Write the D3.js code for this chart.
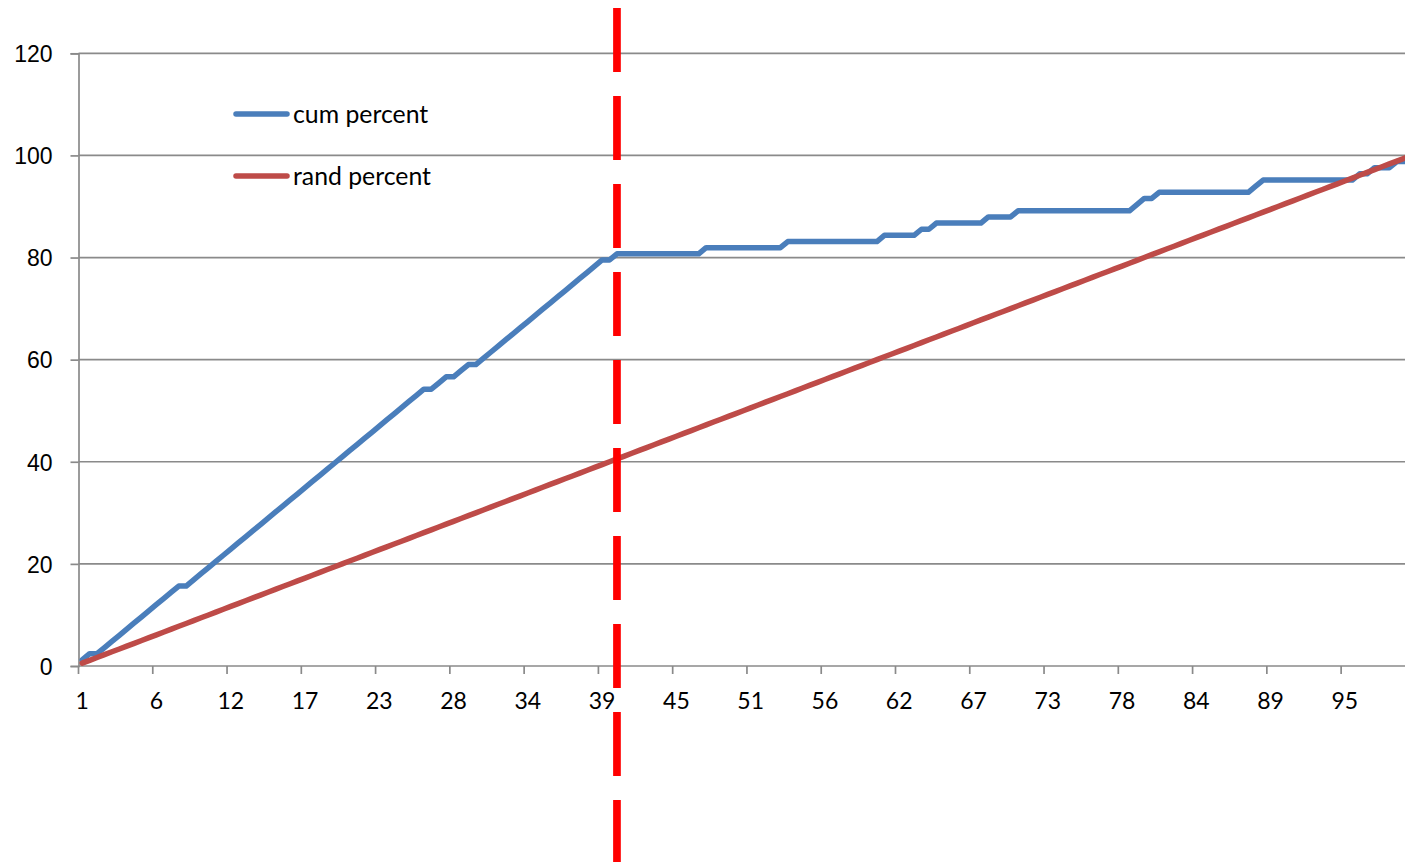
<!DOCTYPE html>
<html>
<head>
<meta charset="utf-8">
<script src="https://cdn.jsdelivr.net/npm/d3@7/dist/d3.min.js"></script>
<style>
  html, body { margin: 0; padding: 0; background: #ffffff; overflow: hidden; }
  svg { display: block; font-family: Lato, "Open Sans", "Liberation Sans", sans-serif; }
</style>
</head>
<body>
<svg id="chart" width="1405" height="862"></svg>
<script>
// Cumulative share of hits (%) after each ranked bin, 180 bins in all
const cumPercent = [
  1.20, 2.41, 2.41, 3.61, 4.82, 6.02, 7.23, 8.43, 9.64, 10.84,
  12.05, 13.25, 14.46, 15.66, 15.66, 16.87, 18.07, 19.28, 20.48, 21.69,
  22.89, 24.10, 25.30, 26.51, 27.71, 28.92, 30.12, 31.33, 32.53, 33.73,
  34.94, 36.14, 37.35, 38.55, 39.76, 40.96, 42.17, 43.37, 44.58, 45.78,
  46.99, 48.19, 49.40, 50.60, 51.81, 53.01, 54.22, 54.22, 55.42, 56.63,
  56.63, 57.83, 59.04, 59.04, 60.24, 61.45, 62.65, 63.86, 65.06, 66.27,
  67.47, 68.67, 69.88, 71.08, 72.29, 73.49, 74.70, 75.90, 77.11, 78.31,
  79.52, 79.52, 80.72, 80.72, 80.72, 80.72, 80.72, 80.72, 80.72, 80.72,
  80.72, 80.72, 80.72, 80.72, 81.93, 81.93, 81.93, 81.93, 81.93, 81.93,
  81.93, 81.93, 81.93, 81.93, 81.93, 83.13, 83.13, 83.13, 83.13, 83.13,
  83.13, 83.13, 83.13, 83.13, 83.13, 83.13, 83.13, 83.13, 84.34, 84.34,
  84.34, 84.34, 84.34, 85.54, 85.54, 86.75, 86.75, 86.75, 86.75, 86.75,
  86.75, 86.75, 87.95, 87.95, 87.95, 87.95, 89.16, 89.16, 89.16, 89.16,
  89.16, 89.16, 89.16, 89.16, 89.16, 89.16, 89.16, 89.16, 89.16, 89.16,
  89.16, 89.16, 90.36, 91.57, 91.57, 92.77, 92.77, 92.77, 92.77, 92.77,
  92.77, 92.77, 92.77, 92.77, 92.77, 92.77, 92.77, 92.77, 93.98, 95.18,
  95.18, 95.18, 95.18, 95.18, 95.18, 95.18, 95.18, 95.18, 95.18, 95.18,
  95.18, 95.18, 96.39, 96.39, 97.59, 97.59, 97.59, 98.80, 98.80, 100.00
];

// Share expected from a random ordering (%), same 180 bins
const randPercent = [
  0.56, 1.11, 1.67, 2.22, 2.78, 3.33, 3.89, 4.44, 5.00, 5.56, 6.11, 6.67, 7.22, 7.78, 8.33, 8.89, 9.44, 10.00,
  10.56, 11.11, 11.67, 12.22, 12.78, 13.33, 13.89, 14.44, 15.00, 15.56, 16.11, 16.67, 17.22, 17.78, 18.33, 18.89, 19.44, 20.00,
  20.56, 21.11, 21.67, 22.22, 22.78, 23.33, 23.89, 24.44, 25.00, 25.56, 26.11, 26.67, 27.22, 27.78, 28.33, 28.89, 29.44, 30.00,
  30.56, 31.11, 31.67, 32.22, 32.78, 33.33, 33.89, 34.44, 35.00, 35.56, 36.11, 36.67, 37.22, 37.78, 38.33, 38.89, 39.44, 40.00,
  40.56, 41.11, 41.67, 42.22, 42.78, 43.33, 43.89, 44.44, 45.00, 45.56, 46.11, 46.67, 47.22, 47.78, 48.33, 48.89, 49.44, 50.00,
  50.56, 51.11, 51.67, 52.22, 52.78, 53.33, 53.89, 54.44, 55.00, 55.56, 56.11, 56.67, 57.22, 57.78, 58.33, 58.89, 59.44, 60.00,
  60.56, 61.11, 61.67, 62.22, 62.78, 63.33, 63.89, 64.44, 65.00, 65.56, 66.11, 66.67, 67.22, 67.78, 68.33, 68.89, 69.44, 70.00,
  70.56, 71.11, 71.67, 72.22, 72.78, 73.33, 73.89, 74.44, 75.00, 75.56, 76.11, 76.67, 77.22, 77.78, 78.33, 78.89, 79.44, 80.00,
  80.56, 81.11, 81.67, 82.22, 82.78, 83.33, 83.89, 84.44, 85.00, 85.56, 86.11, 86.67, 87.22, 87.78, 88.33, 88.89, 89.44, 90.00,
  90.56, 91.11, 91.67, 92.22, 92.78, 93.33, 93.89, 94.44, 95.00, 95.56, 96.11, 96.67, 97.22, 97.78, 98.33, 98.89, 99.44, 100.00
];

// Category axis labels, one on every tenth bin
const xTickLabels = ["1", "6", "12", "17", "23", "28", "34", "39", "45", "51", "56", "62", "67", "73", "78", "84", "89", "95"];
const xTickEvery = 10;
const yTicks = [0, 20, 40, 60, 80, 100, 120];
const seriesNames = ["cum percent", "rand percent"];
const seriesColors = ["#4A7EBB", "#BE4B48"];
// Bin where the cut-off marker is drawn
const cutoffCategory = 73;

const categories = cumPercent.map((_, i) => i + 1);

const svg = d3.select("#chart");
const W = 1405, H = 862;
const plot = { left: 78.5, right: 1415.4, top: 53.3, bottom: 666 };
const fontSize = 23;
const legendFontSize = 24.8;
const gridColor = "#8A8A8A";

const x = d3.scaleBand().domain(categories).range([plot.left, plot.right]).padding(0);
const xc = c => x(c) + x.bandwidth() / 2;
const y = d3.scaleLinear().domain([0, 120]).range([plot.bottom, plot.top]);

// Horizontal gridlines
svg.append("g").selectAll("line")
  .data(yTicks.filter(v => v > 0))
  .join("line")
  .attr("x1", plot.left).attr("x2", plot.right)
  .attr("y1", d => y(d)).attr("y2", d => y(d))
  .attr("stroke", gridColor).attr("stroke-width", 1.7);

// Y axis
const yAxis = d3.axisLeft(y).tickValues(yTicks).tickSize(8).tickPadding(18).tickFormat(d3.format("d"));
const gy = svg.append("g").attr("transform", `translate(${plot.left},0)`).call(yAxis);
gy.select(".domain").attr("stroke", gridColor).attr("stroke-width", 1.7);
gy.selectAll(".tick line").attr("stroke", gridColor).attr("stroke-width", 1.7);
gy.selectAll(".tick text")
  .attr("font-size", fontSize).attr("font-family", null)
  .attr("fill", "#000").attr("dy", "0.36em");

// X axis line, tick marks at bin boundaries and labels under bin centres
const gx = svg.append("g");
gx.append("line")
  .attr("x1", plot.left).attr("x2", plot.right)
  .attr("y1", y(0)).attr("y2", y(0))
  .attr("stroke", gridColor).attr("stroke-width", 1.7);
const boundaryCats = categories.filter((c, i) => i % xTickEvery === 0);
gx.selectAll("line.tick")
  .data(boundaryCats)
  .join("line").attr("class", "tick")
  .attr("x1", d => x(d)).attr("x2", d => x(d))
  .attr("y1", y(0)).attr("y2", y(0) + 8)
  .attr("stroke", gridColor).attr("stroke-width", 1.7);
gx.selectAll("text")
  .data(xTickLabels)
  .join("text")
  .attr("x", (d, i) => xc(boundaryCats[i]))
  .attr("y", y(0) + 42.5)
  .attr("text-anchor", "middle")
  .attr("font-size", fontSize)
  .attr("fill", "#000")
  .text(d => d);

// Series lines
const line = d3.line().x((d, i) => xc(categories[i])).y(d => y(d));
[cumPercent, randPercent].forEach((vals, k) => {
  svg.append("path")
    .datum(vals)
    .attr("d", line)
    .attr("fill", "none")
    .attr("stroke", seriesColors[k])
    .attr("stroke-width", 5.5)
    .attr("stroke-linejoin", "round")
    .attr("stroke-linecap", "round");
});

// Legend
const legend = svg.append("g");
const legendRows = [114, 176];
seriesNames.forEach((name, k) => {
  legend.append("line")
    .attr("x1", 236).attr("x2", 287)
    .attr("y1", legendRows[k]).attr("y2", legendRows[k])
    .attr("stroke", seriesColors[k]).attr("stroke-width", 5.5)
    .attr("stroke-linecap", "round");
  legend.append("text")
    .attr("x", 293).attr("y", legendRows[k] + 9)
    .attr("font-size", legendFontSize)
    .attr("fill", "#000")
    .text(name);
});

// Cut-off marker
svg.append("line")
  .attr("x1", xc(cutoffCategory)).attr("x2", xc(cutoffCategory))
  .attr("y1", 8).attr("y2", H + 10)
  .attr("stroke", "#FF0000")
  .attr("stroke-width", 7.7)
  .attr("stroke-dasharray", "64 24");
</script>
</body>
</html>
